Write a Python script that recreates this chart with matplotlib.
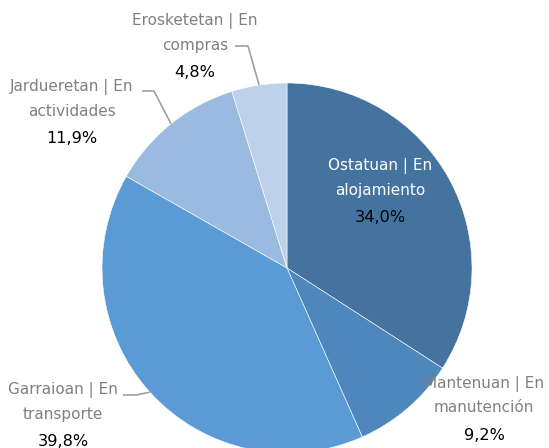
import matplotlib
matplotlib.use('Agg')
import numpy as np
import matplotlib.pyplot as plt

# data
categories = ['Ostatuan | En\nalojamiento', 'Mantenuan | En\nmanutención',
              'Garraioan | En\ntransporte', 'Jardueretan | En\nactividades',
              'Erosketetan | En\ncompras']
values = [34.0, 9.2, 39.8, 11.9, 4.8]
pct_labels = ['34,0%', '9,2%', '39,8%', '11,9%', '4,8%']
colors = ['#44739f', '#4e87bb', '#5b9bd5', '#9bbadf', '#bdd1ea']

# layout (pixels in the 549x448 image)
W, H = 549, 448
cx, cy, R = 287, 268, 185
label_pos = [(380, 166), (484, 384), (63, 390), (72, 87), (195, 21)]
label_col = ['white', '#808080', '#808080', '#808080', '#808080']
# leader line start (end of the label text), None = no leader
leader_start = [None, None, (123, 395), (142, 91), (235, 46)]
leader_knee = [None, None, (136, 395), (154, 91), (248, 46)]


def px(x, y):
    return (x - cx) / R, (cy - y) / R


fig = plt.figure(figsize=(W / 100, H / 100), dpi=100)
ax = fig.add_axes([0, 0, 1, 1])

wedges, _ = ax.pie(values, colors=colors, startangle=90, counterclock=False,
                   radius=1, center=(0, 0), frame=True,
                   wedgeprops=dict(edgecolor='white', linewidth=0.4))
ax.set_xlim(px(0, 0)[0], px(W, 0)[0])
ax.set_ylim(px(0, H)[1], px(0, 0)[1])
ax.set_aspect('auto')
ax.axis('off')

fs = 11
for i, cat in enumerate(categories):
    lx, ly = label_pos[i]
    l1, l2 = cat.split('\n')
    ax.text(*px(lx, ly), l1, ha='center', va='center', fontsize=fs, color=label_col[i])
    ax.text(*px(lx, ly + 24), l2, ha='center', va='center', fontsize=fs, color=label_col[i])
    ax.text(*px(lx, ly + 51), pct_labels[i], ha='center', va='center', fontsize=fs + 0.6, color='black')

    if leader_start[i] is not None:
        w = wedges[i]
        mid = np.deg2rad((w.theta1 + w.theta2) / 2)
        ex, ey = np.cos(mid), np.sin(mid)
        sx, sy = px(*leader_start[i])
        kx, ky = px(*leader_knee[i])
        ax.plot([sx, kx, ex], [sy, ky, ey], color='#a0a0a0', lw=1.2, solid_capstyle='butt')

fig.savefig('out.png', dpi=100)
